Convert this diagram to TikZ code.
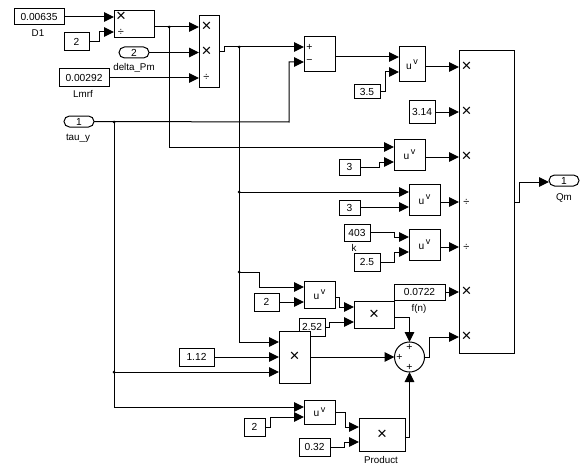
\documentclass[tikz,border=0pt]{standalone}
\usepackage{fontspec}
\setmainfont{Liberation Sans}
\usetikzlibrary{arrows.meta,calc}
\tikzset{
  box/.style={draw=black,fill=white,line width=1pt,inner sep=0pt,outer sep=0pt,font=\fontsize{10.2}{12}\selectfont},
  port/.style={box,rounded corners=5.5pt},
  wire/.style={line width=1pt,draw=black},
  arr/.style={wire,-{Triangle[length=10pt,width=9.5pt]}},
  lab/.style={inner sep=0pt,font=\fontsize{9.8}{11}\selectfont},
  sym/.style={inner sep=0pt,font=\fontsize{17}{17}\selectfont},
  dv/.style={inner sep=0pt,font=\fontsize{11}{11}\selectfont},
  sg/.style={inner sep=0pt,font=\fontsize{10.5}{10.5}\selectfont},
  dot/.style={circle,fill=black,inner sep=0pt,minimum size=3pt}
}
\newcommand{\blk}[7][box]{%
  \pgfmathsetmacro{\myw}{#5-#3}\pgfmathsetmacro{\myh}{#6-#4}%
  \pgfmathsetmacro{\mycx}{(#5+#3)/2}\pgfmathsetmacro{\mycy}{(#6+#4)/2}%
  \node[#1,minimum width=\myw pt,minimum height=\myh pt] (#2) at (\mycx,\mycy) {#7};}
\newcommand{\uv}{u\raisebox{4.5pt}{\,\fontsize{9}{9}\selectfont v}}
\begin{document}
\begin{tikzpicture}[x=1pt,y=-1pt]
\useasboundingbox[fill=white] (0,0) rectangle (588,468);
% constants
\blk{cA}{14}{9}{64}{25}{0.00635}
\blk{cB}{64}{33}{89}{51}{2}
\blk{cL}{59}{69}{109}{87}{0.00292}
\blk[port]{pD}{119}{47}{149}{58}{2}
\blk[port]{pT}{64}{116}{94}{127}{1}
\blk[port]{pQ}{549}{175}{579}{186}{1}
\blk{c35}{354}{85}{380}{99}{3.5}
\blk{c314}{409}{101}{435}{123}{3.14}
\blk{c3a}{339}{159}{360}{175}{3}
\blk{c3b}{339}{200}{360}{215}{3}
\blk{c403}{344}{224}{370}{241}{403}
\blk{c25}{354}{253}{380}{271}{2.5}
\blk{cF}{394}{284}{445}{300}{0.0722}
\blk{c2a}{254}{293}{279}{311}{2}
\blk{c252}{299}{318}{325}{336}{2.52}
\blk{c112}{179}{348}{214}{366}{1.12}
\blk{c2b}{244}{418}{265}{436}{2}
\blk{c032}{299}{438}{330}{456}{0.32}
% blocks
\blk{mA}{114}{11}{154}{38}{}
\blk{mB}{199}{16}{219}{88}{}
\blk{sA}{304}{37}{335}{72}{}
\blk{uA}{399}{47}{425}{82}{\uv}
\blk{uB}{394}{139}{425}{170}{\uv}
\blk{uC}{409}{184}{440}{215}{\uv}
\blk{uD}{409}{229}{440}{260}{\uv}
\blk{uE}{304}{281}{335}{308}{\uv}
\blk{uF}{304}{400}{335}{424}{\uv}
\blk{mC}{354}{301}{394}{328}{\fontsize{17}{17}\selectfont ×}
\blk{mD}{279}{331}{310}{383}{\fontsize{17}{17}\selectfont ×}
\blk{mE}{359}{418}{405}{451}{\fontsize{17}{17}\selectfont ×}
\blk{mG}{459}{51}{514}{353}{}
\node[box,circle,minimum size=30pt] (sum) at (409.5,357) {};
% labels
\node[lab] (lD) at (38,33.5) {D1};
\node[lab] (lP) at (134,68) {delta\_Pm};
\node[lab] (lL) at (83,94) {Lmrf};
\node[lab] (lT) at (78,138.5) {tau\_y};
\node[lab] (lQ) at (564,198) {Qm};
\node[lab] (lK) at (354,248) {k};
\node[lab] (lF) at (419,309) {f(n)};
\node[lab] (lR) at (381,460) {Product};
% port signs
\node[sym] (a1) at (121,17) {×};
\node[dv] (a2) at (121,32) {÷};
\node[sym] (a3) at (206.5,27) {×};
\node[sym] (a4) at (206.5,52) {×};
\node[dv] (a5) at (206.5,77) {÷};
\node[sg] (a6) at (309.5,47) {+};
\node[sg] (a7) at (309.5,62) {−};
\node[sym] (g1) at (466.5,67) {×};
\node[sym] (g2) at (466.5,112) {×};
\node[sym] (g3) at (466.5,157) {×};
\node[dv] (g4) at (466.5,202) {÷};
\node[dv] (g5) at (466.5,247) {÷};
\node[sym] (g6) at (466.5,292) {×};
\node[sym] (g7) at (466.5,337) {×};
\node[sg] (q1) at (409.5,347) {+};
\node[sg] (q2) at (399.5,357) {+};
\node[sg] (q3) at (409.5,367) {+};
% junctions
\coordinate (jA) at (169,27);
\coordinate (jB) at (239,47);
\coordinate (jT) at (114,122);
\coordinate (jB2) at (239,192);
\coordinate (jB3) at (239,272);
\coordinate (jT2) at (114,372);
\foreach \j/\nm in {jA/dA,jB/dB,jT/dT,jB2/dC,jB3/dD,jT2/dE}{\node[dot] (\nm) at (\j) {};}
% wires
\draw[arr] (cA.east) -- (mA.west |- cA.east);
\draw[arr] (cB.east) -- (99,42) -- (99,32) -- (mA.west |- 0,32);
\draw[arr] (mA.east |- jA) -- (mB.west |- jA);
\draw[arr] (pD.east) -- (mB.west |- pD.east);
\draw[arr] (cL.east) -- (mB.west |- cL.east);
\draw[arr] (mB.east) -- (224,52) -- (224,47) -- (sA.west |- jB);
\draw[arr] (pT.east) -- (289,122) -- (289,62) -- (sA.west |- 0,62);
\draw[arr] (sA.east |- 0,57) -- (uA.west |- 0,57);
\draw[arr] (c35.east) -- (385,92) -- (385,72) -- (uA.west |- 0,72);
\draw[arr] (uA.east |- 0,67) -- (mG.west |- 0,67);
\draw[arr] (c314.east) -- (mG.west |- c314.east);
\draw[arr] (jA) -- (169,147) -- (uB.west |- 0,147);
\draw[arr] (c3a.east |- 0,167) -- (379,167) -- (379,162) -- (uB.west |- 0,162);
\draw[arr] (uB.east |- 0,157) -- (mG.west |- 0,157);
\draw[arr] (jB2) -- (uC.west |- jB2);
\draw[arr] (c3b.east |- 0,207) -- (uC.west |- 0,207);
\draw[arr] (uC.east |- 0,202) -- (mG.west |- 0,202);
\draw[arr] (c403.east |- 0,232) -- (394,232) -- (394,237) -- (uD.west |- 0,237);
\draw[arr] (c25.east |- 0,262) -- (394,262) -- (394,252) -- (uD.west |- 0,252);
\draw[arr] (uD.east |- 0,247) -- (mG.west |- 0,247);
\draw[arr] (cF.east) -- (mG.west |- cF.east);
\draw[wire] (jB) -- (239,342);
\draw[arr] (239,342) -- (mD.west |- 0,342);
\draw[arr] (jB3) -- (259,272) -- (259,287) -- (uE.west |- 0,287);
\draw[arr] (c2a.east |- 0,302) -- (uE.west |- 0,302);
\draw[arr] (uE.east |- 0,297) -- (339,297) -- (339,307) -- (mC.west |- 0,307);
\draw[arr] (c252.east |- 0,327) -- (329,327) -- (329,322) -- (mC.west |- 0,322);
\draw[arr] (c112.east) -- (mD.west |- c112.east);
\draw[arr] (jT2) -- (mD.west |- jT2);
\draw[arr] (mD.east |- sum.west) -- (sum.west);
\draw[arr] (mC.east |- 0,317) -- (sum.north |- 0,317) -- (sum.north);
\draw[arr] (sum.east) -- (429,357) -- (429,337) -- (mG.west |- 0,337);
\draw[wire] (jT) -- (114,407);
\draw[arr] (114,407) -- (uF.west |- 0,407);
\draw[arr] (c2b.east |- 0,427) -- (270,427) -- (270,417) -- (uF.west |- 0,417);
\draw[arr] (uF.east |- 0,412) -- (345,412) -- (345,427) -- (mE.west |- 0,427);
\draw[arr] (c032.east |- 0,447) -- (344,447) -- (344,442) -- (mE.west |- 0,442);
\draw[arr] (mE.east |- 0,437) -- (sum.south |- 0,437) -- (sum.south);
\draw[arr] (mG.east |- 0,202) -- (519,202) -- (519,182) -- (pQ.west |- 0,182);
\end{tikzpicture}
\end{document}
